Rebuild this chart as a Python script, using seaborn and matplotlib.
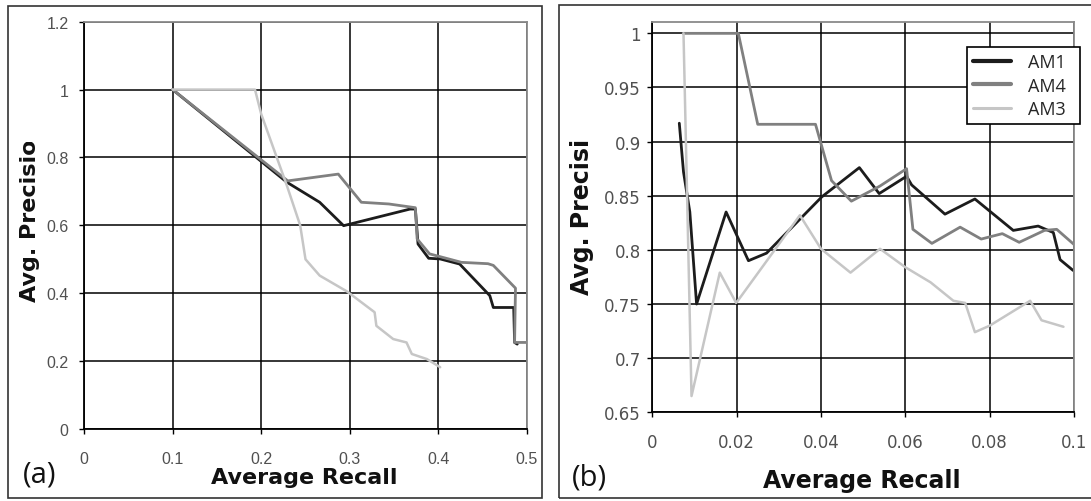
import numpy as np
import pandas as pd
import matplotlib
matplotlib.use("Agg")
import matplotlib.pyplot as plt
import seaborn as sns
from matplotlib.patches import Rectangle
from matplotlib.transforms import Bbox, TransformedBbox
from matplotlib.ticker import FuncFormatter

# series names (legend order)
series = ["AM1", "AM4", "AM3"]

# panel (a): precision vs recall
am1_a_x = [0.100, 0.229, 0.266, 0.293, 0.368, 0.374, 0.377, 0.389, 0.402, 0.424, 0.458, 0.462, 0.485, 0.486, 0.489]
am1_a_y = [1.000, 0.727, 0.668, 0.599, 0.648, 0.648, 0.545, 0.503, 0.501, 0.486, 0.393, 0.358, 0.358, 0.255, 0.250]
am4_a_x = [0.100, 0.230, 0.287, 0.313, 0.344, 0.374, 0.376, 0.390, 0.426, 0.456, 0.462, 0.487, 0.486, 0.500]
am4_a_y = [1.000, 0.731, 0.751, 0.668, 0.663, 0.652, 0.560, 0.516, 0.491, 0.487, 0.482, 0.415, 0.255, 0.255]
am3_a_x = [0.100, 0.193, 0.200, 0.229, 0.244, 0.250, 0.266, 0.297, 0.328, 0.330, 0.349, 0.364, 0.370, 0.387, 0.402]
am3_a_y = [1.000, 1.000, 0.928, 0.717, 0.600, 0.500, 0.452, 0.405, 0.344, 0.304, 0.265, 0.255, 0.221, 0.206, 0.182]

# panel (b): zoom on low recall
am1_b_x = [0.0064, 0.0074, 0.0089, 0.0105, 0.0175, 0.0228, 0.0271, 0.0402, 0.0491, 0.0538, 0.0603, 0.0615,
           0.0694, 0.0765, 0.0856, 0.0915, 0.0951, 0.0967, 0.0998]
am1_b_y = [0.917, 0.872, 0.835, 0.750, 0.835, 0.790, 0.797, 0.849, 0.876, 0.852, 0.868, 0.860,
           0.833, 0.847, 0.818, 0.822, 0.816, 0.791, 0.781]
am4_b_x = [0.0073, 0.0204, 0.0250, 0.0387, 0.0425, 0.0472, 0.0540, 0.0603, 0.0618, 0.0663, 0.0730, 0.0780,
           0.0830, 0.0870, 0.0930, 0.0959, 0.1000]
am4_b_y = [1.000, 1.000, 0.916, 0.916, 0.864, 0.845, 0.859, 0.875, 0.819, 0.806, 0.821, 0.810,
           0.815, 0.807, 0.818, 0.819, 0.805]
am3_b_x = [0.0074, 0.0093, 0.0160, 0.0199, 0.0350, 0.0400, 0.0470, 0.0540, 0.0600, 0.0660, 0.0714, 0.0742,
           0.0765, 0.0800, 0.0896, 0.0923, 0.0975]
am3_b_y = [1.000, 0.665, 0.779, 0.751, 0.832, 0.801, 0.779, 0.801, 0.784, 0.770, 0.753, 0.751,
           0.724, 0.730, 0.753, 0.735, 0.729]

# ticks
a_xticks = [0, 0.1, 0.2, 0.3, 0.4, 0.5]
a_yticks = [0, 0.2, 0.4, 0.6, 0.8, 1.0, 1.2]
b_xticks = [0, 0.02, 0.04, 0.06, 0.08, 0.1]
b_yticks = [0.65, 0.7, 0.75, 0.8, 0.85, 0.9, 0.95, 1.0]

colors = {"AM1": "#1c1c1c", "AM4": "#808080", "AM3": "#c6c6c6"}
widths = {"AM1": 2.0, "AM4": 2.0, "AM3": 1.8}

sns.set_style("white")

W, H = 1091, 502
fig = plt.figure(figsize=(W / 100, H / 100), dpi=100)


def px_box(x0, y0, x1, y1):
    # pixel box (top-left origin) -> figure fraction rect
    return [x0 / W, 1 - y1 / H, (x1 - x0) / W, (y1 - y0) / H]


ax_a = fig.add_axes(px_box(84, 22.7, 527, 430))
ax_b = fig.add_axes(px_box(652.3, 23.3, 1074, 413.3))

panel_a = {"AM1": (am1_a_x, am1_a_y), "AM4": (am4_a_x, am4_a_y), "AM3": (am3_a_x, am3_a_y)}
panel_b = {"AM1": (am1_b_x, am1_b_y), "AM4": (am4_b_x, am4_b_y), "AM3": (am3_b_x, am3_b_y)}

for ax, panel in [(ax_a, panel_a), (ax_b, panel_b)]:
    for name in series:
        xs, ys = panel[name]
        df = pd.DataFrame({"recall": xs, "precision": ys})
        sns.lineplot(data=df, x="recall", y="precision", ax=ax, sort=False, estimator=None,
                     color=colors[name], linewidth=widths[name], label=name, legend=False)


def style_axes(ax, xt, yt, xlim, ylim, tickfont, tsize, xpad, ypad):
    ax.set_xlim(*xlim)
    ax.set_ylim(*ylim)
    ax.set_xticks(xt)
    ax.set_yticks(yt)
    fmt = FuncFormatter(lambda v, p: f"{v:g}")
    ax.xaxis.set_major_formatter(fmt)
    ax.yaxis.set_major_formatter(fmt)
    ax.set_axisbelow(True)
    ax.grid(True, color="black", linewidth=1.1)
    for s in ["left", "bottom"]:
        ax.spines[s].set_color("black")
        ax.spines[s].set_linewidth(1.3)
    for s in ["top", "right"]:
        ax.spines[s].set_color("#8a8a8a")
        ax.spines[s].set_linewidth(1.3)
    ax.tick_params(axis="both", direction="out", length=3.6, width=1, color="black",
                   labelsize=tsize, labelcolor="#505050", bottom=True, left=True)
    ax.tick_params(axis="x", pad=xpad)
    ax.tick_params(axis="y", pad=ypad)
    for lab in ax.get_xticklabels() + ax.get_yticklabels():
        lab.set_family(tickfont)
    ax.set_xlabel("")
    ax.set_ylabel("")


style_axes(ax_a, a_xticks, a_yticks, (0, 0.5), (0, 1.2), "Liberation Sans", 11.5, 12, 7.5)
style_axes(ax_b, b_xticks, b_yticks, (0, 0.1), (0.65, 1.0102), "DejaVu Sans", 12, 11, 4.7)

# the last x label of (a) is cut by the panel frame
ax_a.get_xticklabels()[-1].set_clip_on(True)
ax_a.get_xticklabels()[-1].set_clip_box(TransformedBbox(Bbox.from_extents(0, 0, 541 / W, 1), fig.transFigure))

# legend in (b)
handles = ax_b.get_lines()[:3]
leg = ax_b.legend(handles, series, loc="upper left",
                  bbox_to_anchor=(967 / W, 1 - 129 / H, 113 / W, 81 / H), mode="expand",
                  bbox_transform=fig.transFigure, borderaxespad=0, frameon=True, fancybox=False,
                  edgecolor="black", framealpha=1, handlelength=2.1, handletextpad=0.95,
                  labelspacing=0.3, borderpad=0.35, prop={"family": "Open Sans", "size": 13})
leg.get_frame().set_linewidth(1.2)
for h, n in zip(leg.get_lines(), series):
    h.set_linewidth(3.0 if n != "AM3" else 2.2)

# axis titles (y titles are partly hidden in the original)
fig.text(304 / W, 1 - 484 / H, "Average Recall", ha="center", va="baseline",
         fontsize=16, fontweight="bold", family="DejaVu Sans", color="#111111")
fig.text(862 / W, 1 - 488 / H, "Average Recall", ha="center", va="baseline",
         fontsize=17, fontweight="bold", family="DejaVu Sans", color="#111111")

ta = fig.text(36 / W, 1 - 301.7 / H, "Avg. Precision", rotation=90, rotation_mode="anchor",
              ha="left", va="baseline", fontsize=16, fontweight="bold", family="DejaVu Sans",
              color="#111111")
ta.set_clip_on(True)
ta.set_clip_box(TransformedBbox(Bbox.from_extents(0, 0, 1, 1 - 143 / H), fig.transFigure))
tb = fig.text(589 / W, 1 - 295.4 / H, "Avg. Precision", rotation=90, rotation_mode="anchor",
              ha="left", va="baseline", fontsize=17, fontweight="bold", family="DejaVu Sans",
              color="#111111")
tb.set_clip_on(True)
tb.set_clip_box(TransformedBbox(Bbox.from_extents(0, 0, 1, 1 - 139.5 / H), fig.transFigure))

# panel letters
fig.text(23 / W, 1 - 475 / H, "(a)", ha="left", va="center", fontsize=21, family="Open Sans", color="#111111")
fig.text(572 / W, 1 - 478 / H, "(b)", ha="left", va="center", fontsize=21, family="Open Sans", color="#111111")

# panel frames
fig.add_artist(Rectangle((8 / W, 1 - 499 / H), 534 / W, 492 / H, transform=fig.transFigure,
                         fill=False, edgecolor="#333333", linewidth=1.2))
fig.add_artist(Rectangle((559 / W, 1 - 499 / H), 540 / W, 493 / H, transform=fig.transFigure,
                         fill=False, edgecolor="#333333", linewidth=1.2))

fig.savefig("out.png", dpi=100)
